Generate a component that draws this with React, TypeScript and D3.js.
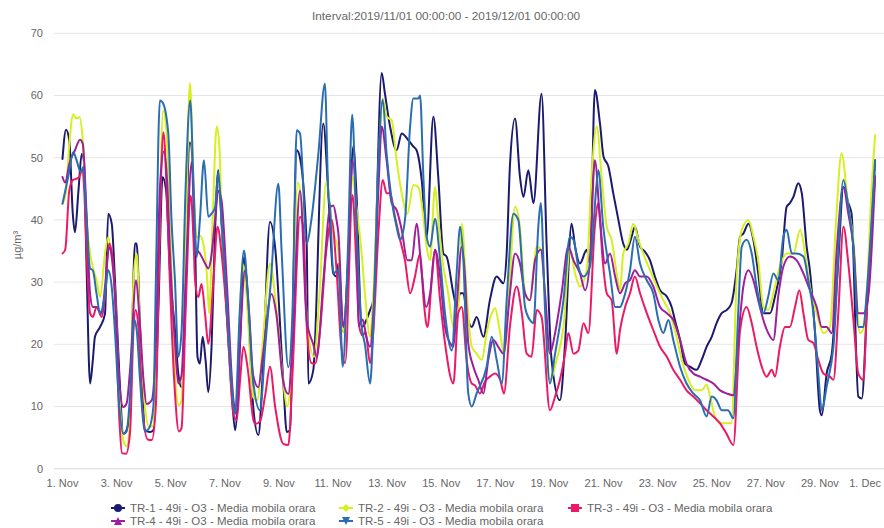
import React from "react";
import * as d3 from "d3";

// ---- data: [days since 2019-11-01 00:00, µg/m³] ----
const TITLE = "Interval:2019/11/01 00:00:00 - 2019/12/01 00:00:00";
const Y_TICKS = [0, 10, 20, 30, 40, 50, 60, 70];
const SERIES_NAMES = [
  "TR-1 - 49i - O3 - Media mobila orara",
  "TR-2 - 49i - O3 - Media mobila orara",
  "TR-3 - 49i - O3 - Media mobila orara",
  "TR-4 - 49i - O3 - Media mobila orara",
  "TR-5 - 49i - O3 - Media mobila orara",
];
const SERIES_COLORS = ["#1b1a6e", "#d6ef1e", "#ec1a66", "#9e1f9b", "#2a6db0"];
const MARKERS = ["circle", "diamond", "square", "triangle", "triangle-down"];

const tr1: [number, number][] = [
  [0,49.8],[0.13,54.5],[0.25,52.8],[0.38,41],[0.46,38],[0.59,44.7],[0.71,50.6],[0.79,49.6],[0.89,32.4],[1.02,13.7],[1.12,17.4],[1.2,21.2],[1.39,22.8],[1.57,24.9],[1.69,41],[1.82,39.4],[1.94,30.3],[2.1,15.3],[2.25,5.6],[2.37,6.2],[2.5,9.9],[2.68,36.2],[2.74,36.2],[2.87,22.2],[3.05,6.2],[3.23,5.9],[3.36,6.2],[3.54,24.9],[3.7,46.9],[3.83,44.7],[3.97,31.9],[4.16,22.2],[4.28,15.3],[4.4,13.1],[4.71,52.5],[4.9,36.7],[4.99,18],[5.08,16.9],[5.18,21.2],[5.29,17.4],[5.39,12.3],[5.51,19.6],[5.64,38.3],[5.76,48],[5.88,39.4],[6.07,25],[6.25,12.6],[6.38,6.2],[6.56,20],[6.71,34],[6.81,30],[7.05,10],[7.24,5.4],[7.4,15],[7.67,39.7],[7.86,35.6],[8.16,14.2],[8.29,5.9],[8.41,6.2],[8.66,51.2],[8.78,50],[9.03,35.6],[9.09,13.7],[9.27,15.8],[9.64,55.5],
  [9.83,44],[10.01,31.4],[10.13,30.9],[10.2,33],[10.38,22],[10.56,33.5],[10.75,51.8],[10.87,44],[11.06,22.8],[11.37,25.5],[11.49,27.1],[11.8,63.6],[11.92,60.3],[12.11,55],[12.35,51.2],[12.54,53.9],[12.79,52.8],[12.97,51.8],[13.09,51.2],[13.28,46.4],[13.46,37.3],[13.71,56.6],[13.89,47],[14.08,34.6],[14.2,34.1],[14.45,28.2],[14.57,26],[14.7,28.2],[14.82,28.2],[14.94,25],[15.13,22.8],[15.31,24.4],[15.56,21.2],[15.8,27.1],[16.05,30.9],[16.3,29.8],[16.42,34.6],[16.54,48.6],[16.73,56.3],[16.91,47],[17.04,43.7],[17.22,48],[17.41,42.7],[17.71,60.3],[17.9,35.7],[18.08,17.5],[18.39,11],[18.58,20.2],[18.82,39.4],[18.95,35.7],[19.13,33],[19.38,35.2],[19.5,33],[19.68,60.9],[19.87,55.5],
  [20.0,50.2],[20.18,48.6],[20.36,44.3],[20.55,40],[20.73,36.2],[20.86,35.2],[21.04,37.3],[21.16,38.9],[21.35,35.7],[21.53,34.9],[21.72,33.5],[21.9,30.9],[22.09,28.7],[22.34,27.7],[22.52,26],[22.64,23.9],[22.83,20.7],[23.01,16.9],[23.2,16.4],[23.44,15.9],[23.63,17.5],[23.81,19.6],[24.0,21.2],[24.18,23.4],[24.37,25],[24.55,25.5],[24.73,26.6],[24.92,31.9],[25.05,37.3],[25.17,37.8],[25.36,39.4],[25.54,36.8],[25.72,31.4],[25.91,25],[26.16,25],[26.34,27.7],[26.59,33.5],[26.77,42.1],[26.89,42.7],[27.02,43.7],[27.2,45.9],[27.33,44.3],[27.51,35.7],[27.63,31.9],[27.82,21.8],[28.0,9.4],[28.07,8.6],[28.25,15.3],[28.44,18.5],[28.68,33.5],[28.87,45.3],[29.05,42.7],[29.17,41],[29.42,11.6],[29.55,11.3],[29.73,25],[30.04,49.6],
];

const tr2: [number, number][] = [
  [0,42.6],[0.13,44.5],[0.25,52],[0.4,57],[0.5,56.3],[0.62,56.5],[0.75,52.8],[0.89,40],[1.02,34.6],[1.12,32.4],[1.26,30.3],[1.39,27.6],[1.57,34.6],[1.69,37.2],[1.82,34],[1.94,28],[2.1,12],[2.25,4.5],[2.37,3.6],[2.5,8],[2.62,30],[2.74,34.6],[2.87,22],[3.05,10],[3.2,6.7],[3.36,7],[3.54,30],[3.72,57.6],[3.83,55],[3.97,40],[4.16,15],[4.3,10.2],[4.4,11],[4.55,35],[4.71,62],[4.85,45],[4.96,37.2],[5.08,37.5],[5.23,35.6],[5.35,30.3],[5.42,25],[5.55,40],[5.7,55],[5.8,51.7],[5.88,41],[6.07,27.6],[6.25,12.6],[6.44,8.8],[6.56,25],[6.65,33],[6.8,28],[7.05,11.5],[7.2,11],[7.4,20],[7.67,33],[7.9,26],[8.16,14],[8.3,10],[8.45,15],[8.7,46],[8.85,42],[9.05,23],[9.3,18],[9.5,28],[9.75,46],[10.01,38],[10.2,35],[10.38,22],[10.56,33],[10.72,47],[10.87,42],
  [11.06,34.6],[11.18,28.2],[11.37,21.2],[11.49,28],[11.68,48],[11.84,59.5],[11.98,56.6],[12.17,56],[12.35,49.6],[12.54,44.3],[12.75,41],[12.97,45.6],[13.15,45.3],[13.34,40.5],[13.46,35.7],[13.59,33.5],[13.77,45.3],[13.89,40],[14.08,32.5],[14.26,28.2],[14.45,22.8],[14.63,25.5],[14.76,39.4],[14.94,28.2],[15.13,19.6],[15.31,18.5],[15.5,17.5],[15.68,21.8],[15.87,25],[15.99,25.8],[16.18,21.8],[16.32,18.5],[16.54,30.9],[16.73,42.1],[16.91,38.9],[17.1,28.2],[17.28,27.1],[17.53,35.7],[17.71,35.2],[18.02,14.3],[18.27,17.5],[18.52,22.8],[18.76,35.2],[18.95,31.4],[19.13,29.3],[19.38,32],[19.56,47],[19.75,55],[19.93,47],[20.12,38.9],[20.3,36.8],[20.49,31.4],[20.61,28.7],
  [20.73,34.6],[20.92,36.2],[21.1,39.4],[21.29,36.8],[21.47,34.6],[21.72,31.9],[21.97,29.3],[22.21,27.1],[22.46,25],[22.7,21.2],[22.89,17.5],[23.14,14.3],[23.38,12.6],[23.63,12.6],[23.81,13.5],[23.94,11.6],[24.12,8.4],[24.31,7.3],[24.55,7.3],[24.73,7.3],[24.92,30.3],[25.11,38.4],[25.36,40],[25.54,37.3],[25.72,33.5],[25.91,26],[26.09,25.5],[26.28,28.2],[26.52,32.5],[26.77,34.6],[27.02,34.6],[27.27,38.4],[27.45,34.6],[27.63,29.3],[27.88,25],[28.13,21.8],[28.37,22.8],[28.6,40],[28.8,50.7],[29.05,42.1],[29.24,36.8],[29.48,21.8],[29.61,22.5],[29.73,28],[29.91,45],[30.04,53.6],
];

const tr3: [number, number][] = [
  [0,34.6],[0.1,35.2],[0.25,44.7],[0.38,46.4],[0.5,46.6],[0.62,46.9],[0.72,48],[0.8,45],[0.89,35],[1.02,25],[1.12,24.4],[1.26,26],[1.45,24.4],[1.57,27.6],[1.72,36.2],[1.85,34],[1.94,28],[2.1,8],[2.2,2.5],[2.35,2.4],[2.5,6],[2.62,22],[2.7,25.5],[2.8,23],[2.95,10],[3.15,4.7],[3.3,4.6],[3.45,10],[3.6,40],[3.73,54.1],[3.85,45],[3.97,30],[4.16,12],[4.3,6],[4.4,6.5],[4.55,25],[4.74,43.9],[4.85,36],[4.9,30.3],[5.02,27.6],[5.14,29.7],[5.27,24.9],[5.39,20.1],[5.58,30.3],[5.73,38.9],[5.88,34.6],[6.07,25],[6.32,8.8],[6.44,7.8],[6.56,14],[6.69,19.6],[6.85,16],[7.05,8],[7.12,7.2],[7.3,7.6],[7.5,12],[7.67,16.4],[7.86,10],[8.16,4],[8.35,3.8],[8.5,15],[8.78,40.5],[8.9,38.9],[9.03,22.8],[9.2,17],[9.34,16.9],[9.52,22.2],[9.75,35],[9.95,40],[10.13,32],[10.3,20],[10.45,17],[10.72,44],[10.87,32],[10.97,22.8],[11.1,21.4],[11.2,22],[11.37,17],[11.49,22],[11.68,38],[11.84,46.4],[11.98,44.3],[12.11,44.3],[12.29,40.5],[12.48,36.8],[12.66,33.5],[12.85,28.2],[13.03,30.9],[13.22,34.6],[13.36,26.6],[13.49,22.8],[13.65,30.3],[13.77,35.2],[13.96,27.1],[14.14,20.2],[14.45,13.7],[14.63,25],[14.76,26],[14.94,17.5],[15.13,13.7],[15.25,13.4],[15.43,12.1],[15.62,14],[15.8,14.8],[15.99,15.3],[16.18,14.3],[16.32,12.1],[16.54,22.8],[16.79,29.3],[16.98,25],[17.16,18.5],[17.34,18],[17.53,25.5],[17.71,24.4],[18.02,9.4],[18.21,11.6],[18.39,14.3],[18.58,18.5],[18.7,21.8],[18.89,18.5],[19.07,19],[19.26,23.4],[19.44,21.8],[19.68,38.9],[19.81,42.7],[19.97,33.5],[20.12,28.2],[20.3,27.1],[20.49,18.5],
  [20.61,22.3],[20.8,26],[20.98,28.2],[21.16,30.9],[21.35,28.2],[21.6,25],[21.84,22.3],[22.09,19.6],[22.34,18],[22.58,15.9],[22.83,14.3],[23.07,12.6],[23.32,11.6],[23.57,10.5],[23.81,9.4],[24.06,8.4],[24.31,7.3],[24.55,5.6],[24.8,3.8],[25.05,22.3],[25.29,26],[25.48,23.4],[25.66,19.6],[25.85,16.4],[26.03,14.8],[26.22,15.9],[26.34,14.8],[26.52,19.6],[26.71,22.8],[26.89,22.8],[27.08,26],[27.24,28.7],[27.39,25],[27.57,20.7],[27.76,20.2],[27.94,17.5],[28.13,15.3],[28.37,14.8],[28.5,14.3],[28.68,25],[28.87,38.9],[29.05,33],[29.24,23.9],[29.42,15.3],[29.61,14.3],[29.73,25],[30.04,47],
];

const tr4: [number, number][] = [
  [0,46.9],[0.1,46],[0.25,49],[0.46,51.2],[0.65,52.9],[0.75,52.2],[0.89,41],[1.02,28.1],[1.12,26],[1.26,26],[1.45,24.9],[1.57,29.2],[1.72,35.6],[1.85,33],[1.94,28],[2.1,14],[2.25,9.9],[2.37,10.5],[2.5,16],[2.72,30.3],[2.85,24],[3.0,14],[3.11,10.4],[3.3,11],[3.45,20],[3.6,45],[3.75,51],[3.87,46],[3.97,35],[4.16,20],[4.28,13.7],[4.4,15],[4.55,30],[4.78,49.3],[4.9,35.6],[5.08,34.6],[5.27,33],[5.39,32.2],[5.48,33.5],[5.64,40],[5.76,44.7],[5.88,43.1],[6.07,30.3],[6.32,11],[6.44,8.8],[6.56,20],[6.75,31.9],[6.9,25],[7.05,15],[7.24,13.1],[7.4,18],[7.73,28.1],[7.9,25],[8.16,14],[8.35,12],[8.5,20],[8.78,44.7],[9.03,23.8],[9.27,20],[9.4,18],[9.64,30],[9.89,42],[10.01,42.3],[10.13,40],[10.2,37.8],[10.38,22.8],[10.56,33],[10.72,49.6],[10.87,40],[10.94,23],[11.1,24],[11.24,21],[11.37,19.6],[11.49,25],[11.68,45],[11.8,55],[11.98,49.6],[12.17,42.7],[12.35,41.6],[12.54,38.4],[12.75,33.5],[12.91,33.5],[13.09,39.4],[13.28,31.4],[13.44,26],[13.59,28.2],[13.77,35.2],[13.96,30.9],[14.14,22.8],[14.33,20.2],[14.45,19.6],[14.57,26],[14.76,35.7],[14.88,30.9],[15.0,20.2],[15.19,16.4],[15.37,14.3],[15.56,12.1],[15.74,17.5],[15.93,20.7],[16.11,19.6],[16.3,18.5],[16.54,28.2],[16.73,34.6],[16.91,33],[17.1,28.2],[17.28,27.1],[17.47,33.5],[17.68,35.2],[17.84,28.2],[18.02,18.5],[18.21,21.8],[18.45,28.2],[18.7,35.7],[18.89,33.5],[19.13,31.4],[19.32,28.7],[19.5,33.5],[19.68,49.6],[19.87,40],[20.06,33],[20.24,34.6],[20.43,30.9],[20.61,28.2],
  [20.8,29.8],[20.98,30.3],[21.16,31.9],[21.35,30.9],[21.6,30.9],[21.84,29.3],[22.09,26],[22.34,25],[22.58,23.9],[22.83,20.7],[23.07,16.9],[23.32,15.3],[23.57,14.8],[23.81,14.3],[24.06,13.7],[24.31,12.6],[24.55,12.1],[24.8,11.8],[24.98,20.7],[25.17,29.3],[25.36,31.9],[25.54,30.3],[25.72,27.1],[25.91,23.9],[26.09,21.8],[26.28,20.7],[26.46,27.7],[26.65,32.5],[26.89,34.1],[27.14,33.5],[27.39,31.4],[27.63,28.7],[27.88,26],[28.07,22.8],[28.25,22.8],[28.44,21.8],[28.62,35],[28.87,45.3],[29.05,41],[29.24,35.7],[29.42,25],[29.61,25],[29.79,27.7],[30.04,47],
];

const tr5: [number, number][] = [
  [0,42.6],[0.21,46.9],[0.4,50.9],[0.52,49.6],[0.67,47.7],[0.77,48.5],[0.89,40],[1.02,32.2],[1.12,31.9],[1.26,28.1],[1.39,24.9],[1.57,28.1],[1.69,31.9],[1.82,29.2],[1.94,22],[2.1,10],[2.25,5.6],[2.37,6],[2.5,12],[2.65,24],[2.75,22],[2.87,14],[3.05,6],[3.2,6.5],[3.36,10],[3.45,30],[3.6,59.2],[3.7,58.9],[3.91,54],[4.03,40],[4.16,30],[4.28,18],[4.4,22],[4.55,45],[4.72,59.2],[4.85,45],[4.96,34],[5.08,40],[5.23,49.6],[5.39,40.5],[5.51,41],[5.64,42],[5.76,47.7],[5.88,40],[6.07,27],[6.25,14],[6.38,8.8],[6.55,25],[6.71,35.1],[6.85,28],[7.05,14],[7.3,9.4],[7.5,20],[7.7,30],[7.98,45.8],[8.1,35],[8.35,16.3],[8.5,25],[8.66,54.4],[8.78,53.9],[9.03,36.2],[9.2,40],[9.46,50.7],[9.7,61.9],
  [9.83,44],[9.89,42],[10.01,31.4],[10.2,32],[10.36,16.4],[10.55,35],[10.71,56.9],[10.87,38.9],[11.06,22.8],[11.18,20],[11.37,13.7],[11.49,22.8],[11.68,49.6],[11.84,59.3],[11.98,50.7],[12.17,43.2],[12.35,38.9],[12.48,36.8],[12.66,40],[12.85,55],[12.97,59.5],[13.15,59.5],[13.22,60],[13.34,47],[13.46,37.3],[13.59,35.7],[13.77,40.2],[13.96,33.5],[14.14,25],[14.39,19],[14.57,31.4],[14.7,38.9],[14.82,33.5],[15.0,12.1],[15.13,10],[15.31,12.1],[15.68,16.4],[15.87,21.2],[16.05,17.5],[16.24,13.7],[16.42,27.1],[16.67,41],[16.85,40],[17.1,26],[17.28,23.9],[17.41,23.4],[17.59,38.9],[17.68,42.7],[17.84,25.5],[18.02,13.7],[18.21,18.5],[18.52,27.1],[18.76,37.3],[18.89,36.8],[19.07,32.5],[19.26,30.9],[19.5,32.5],[19.75,46],[19.81,48],[19.99,38.9],[20.24,31.4],[20.43,26],[20.61,26],
  [20.73,27.1],[20.98,31.9],[21.16,37.3],[21.35,33],[21.6,30.3],[21.84,28.2],[22.03,23.9],[22.21,21.8],[22.4,23.9],[22.58,20.7],[22.83,16.4],[23.07,13.7],[23.32,12.1],[23.57,11],[23.81,8.4],[24.0,11.6],[24.18,11],[24.37,9.4],[24.6,9.4],[24.8,8.1],[24.98,25],[25.11,35.7],[25.29,36.8],[25.48,34.6],[25.66,29.3],[25.91,25],[26.09,27.7],[26.28,31.4],[26.46,30.3],[26.65,37.3],[26.77,38.4],[26.96,34.6],[27.14,34.6],[27.39,34.1],[27.57,30.3],[27.76,25],[27.94,15.3],[28.07,9.4],[28.25,13.2],[28.5,19.6],[28.87,46.4],[29.05,42.1],[29.24,35.7],[29.42,22.8],[29.61,22.8],[29.73,28.2],[30.04,49.6],
];

const SERIES_DATA = [tr1, tr2, tr3, tr4, tr5];

// ---- layout ----
const W = 884;
const H = 528;
const START = Date.UTC(2019, 10, 1);
const END = Date.UTC(2019, 11, 1);
const DAY = 86400000;
const FONT = "'Liberation Sans', Arial, Helvetica, sans-serif";
const TEXT = "#666666";

function Marker({ type, x, y, color }: { type: string; x: number; y: number; color: string }) {
  const r = 4;
  if (type === "circle") return <circle cx={x} cy={y} r={r} fill={color} />;
  if (type === "square") return <rect x={x - r} y={y - r} width={2 * r} height={2 * r} fill={color} />;
  if (type === "diamond")
    return <path d={`M${x},${y - r}L${x + r},${y}L${x},${y + r}L${x - r},${y}Z`} fill={color} />;
  if (type === "triangle")
    return <path d={`M${x},${y - r}L${x + r},${y + r}L${x - r},${y + r}Z`} fill={color} />;
  return <path d={`M${x - r},${y - r}L${x + r},${y - r}L${x},${y + r}Z`} fill={color} />;
}

export default function App() {
  const x = d3.scaleUtc().domain([new Date(START), new Date(END)]).range([62.5, 874]);
  const y = d3.scaleLinear().domain([0, 70]).range([468.7, 33.3]);
  const gridLeft = 54;

  const line = d3
    .line<[number, number]>()
    .x((d) => x(new Date(START + d[0] * DAY)))
    .y((d) => y(d[1]))
    .curve(d3.curveMonotoneX);

  const xTicks = d3.utcDay.every(2)!.range(new Date(START), new Date(END + 1));
  const fmt = d3.utcFormat("%-d. %b");

  const legendX = [118, 346, 575];
  const legendY = [508, 521];

  return (
    <svg
      width={W}
      height={H}
      style={{ position: "fixed", left: 0, top: 0, background: "#fff" }}
      fontFamily={FONT}
    >
      <rect x={0} y={0} width={W} height={H} fill="#fff" />
      <text x={446} y={20} textAnchor="middle" fontSize={11.8} fill={TEXT}>
        {TITLE}
      </text>

      {Y_TICKS.map((t) => (
        <g key={t}>
          <line x1={gridLeft} x2={W} y1={y(t)} y2={y(t)} stroke={t === 0 ? "#d8d8d8" : "#e6e6e6"} strokeWidth={1} />
          <text x={43} y={y(t)} dy="0.35em" textAnchor="end" fontSize={11} fill={TEXT}>
            {t}
          </text>
        </g>
      ))}

      <text
        transform={`translate(17,245) rotate(-90)`}
        textAnchor="middle"
        dy="0.35em"
        fontSize={11}
        fill={TEXT}
      >
        µg/m³
      </text>

      {xTicks.map((t, i) => {
        const px = x(t);
        const last = i === xTicks.length - 1;
        return (
          <text
            key={i}
            x={last ? 881 : px}
            y={487}
            textAnchor={last ? "end" : "middle"}
            fontSize={11}
            fill={TEXT}
          >
            {fmt(t)}
          </text>
        );
      })}

      <g fill="none" strokeWidth={2} strokeLinejoin="round" strokeLinecap="round">
        {SERIES_DATA.map((s, i) => (
          <path key={i} d={line(s) || ""} stroke={SERIES_COLORS[i]} />
        ))}
      </g>

      {SERIES_NAMES.map((name, i) => {
        const lx = legendX[i % 3];
        const ly = legendY[Math.floor(i / 3)];
        return (
          <g key={name}>
            <line x1={lx - 7} x2={lx + 7} y1={ly} y2={ly} stroke={SERIES_COLORS[i]} strokeWidth={2} />
            <Marker type={MARKERS[i]} x={lx} y={ly} color={SERIES_COLORS[i]} />
            <text x={lx + 12} y={ly} dy="0.35em" fontSize={11.5} fill={TEXT}>
              {name}
            </text>
          </g>
        );
      })}
    </svg>
  );
}
